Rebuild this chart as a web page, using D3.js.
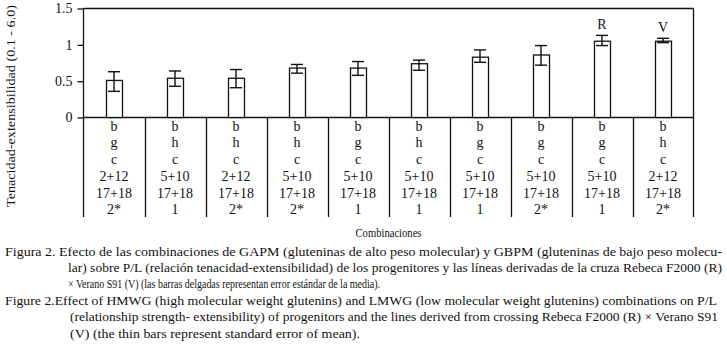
<html>
<head>
    <meta charset="utf-8">
    <script src="https://d3js.org/d3.v7.min.js"></script>
    <style>
        body { margin: 0; background: #fff; }
        text { font-family: "Liberation Serif", "DejaVu Serif", serif; fill: #111; }
    </style>
</head>
<body>
    <div id="chart">
        <svg width=727 height=354></svg>
    </div>
    <script>
        // datos
        var categories = ["c1", "c2", "c3", "c4", "c5", "c6", "c7", "c8", "c9", "c10"]
        var means  = [0.51, 0.54, 0.54, 0.68, 0.68, 0.74, 0.83, 0.86, 1.05, 1.05]
        var errLow = [0.36, 0.43, 0.41, 0.61, 0.58, 0.65, 0.76, 0.72, 0.99, 1.03]
        var errHigh = [0.63, 0.64, 0.66, 0.73, 0.77, 0.79, 0.93, 0.99, 1.13, 1.09]
        var barLabels = ["", "", "", "", "", "", "", "", "R", "V"]

        // filas de la tabla bajo el eje x
        var row1 = ["b", "b", "b", "b", "b", "b", "b", "b", "b", "b"]
        var row2 = ["g", "h", "h", "h", "g", "h", "g", "g", "g", "h"]
        var row3 = ["c", "c", "c", "c", "c", "c", "c", "c", "c", "c"]
        var row4 = ["2+12", "5+10", "2+12", "5+10", "5+10", "5+10", "5+10", "5+10", "5+10", "2+12"]
        var row5 = ["17+18", "17+18", "17+18", "17+18", "17+18", "17+18", "17+18", "17+18", "17+18", "17+18"]
        var row6 = ["2*", "1", "2*", "2*", "1", "1", "1", "2*", "1", "2*"]
        var rows = [row1, row2, row3, row4, row5, row6]

        var yTicks = [0, 0.5, 1, 1.5]
        var yTickLabels = ["0", "0.5", "1", "1.5"]

        var svg = d3.select('#chart svg')

        // ojo: "top" es de window, no usarlo como nombre
        var plotLeft = 83.5, plotRight = 693.5, plotTop = 8.5, base = 117.5, tableBottom = 217

        var x = d3.scaleBand()
            .domain(categories)
            .range([plotLeft, plotRight])
            .padding(0)

        var y = d3.scaleLinear()
            .domain([0, 1.5])
            .range([base, plotTop])

        var barW = 16, capW = 12

        // marco superior y derecho
        svg.append('line')
            .attr('x1', plotLeft).attr('x2', plotRight).attr('y1', plotTop).attr('y2', plotTop)
            .attr('stroke', '#111').attr('stroke-width', 1.3)
        svg.append('line')
            .attr('x1', plotRight).attr('x2', plotRight).attr('y1', plotTop).attr('y2', tableBottom)
            .attr('stroke', '#111').attr('stroke-width', 1.3)

        // eje y
        var yAxis = d3.axisLeft(y)
            .tickValues(yTicks)
            .tickFormat(function(d, i) { return yTickLabels[i] })
            .tickSize(6)
            .tickPadding(5)
        var gy = svg.append('g')
            .attr('transform', 'translate(' + plotLeft + ',0)')
            .call(yAxis)
        gy.select('.domain').remove()
        gy.selectAll('line').attr('stroke', '#111').attr('stroke-width', 1.3)
        gy.selectAll('text')
            .style('font-family', '"Liberation Serif", serif')
            .style('font-size', '14px')
            .attr('fill', '#111')

        svg.append('line')
            .attr('x1', plotLeft).attr('x2', plotLeft).attr('y1', plotTop).attr('y2', tableBottom)
            .attr('stroke', '#111').attr('stroke-width', 1.3)

        // eje x (linea base)
        svg.append('line')
            .attr('x1', plotLeft).attr('x2', plotRight).attr('y1', base).attr('y2', base)
            .attr('stroke', '#111').attr('stroke-width', 1.3)

        // barras
        svg.selectAll('rect.bar')
            .data(means)
            .enter()
            .append('rect')
            .classed('bar', true)
            .attr('x', function(d, i) { return Math.round(x(categories[i]) + x.bandwidth() / 2 - barW / 2) + 0.5 })
            .attr('y', function(d) { return y(d) })
            .attr('width', barW)
            .attr('height', function(d) { return base - y(d) })
            .attr('fill', '#fff')
            .attr('stroke', '#111')
            .attr('stroke-width', 1.3)

        // barras de error
        var err = svg.selectAll('g.err')
            .data(means)
            .enter()
            .append('g')
            .classed('err', true)
            .attr('stroke', '#111')
            .attr('stroke-width', 1.4)
        err.append('line')
            .attr('x1', function(d, i) { return x(categories[i]) + x.bandwidth() / 2 })
            .attr('x2', function(d, i) { return x(categories[i]) + x.bandwidth() / 2 })
            .attr('y1', function(d, i) { return y(errLow[i]) })
            .attr('y2', function(d, i) { return y(errHigh[i]) })
        err.append('line')
            .attr('x1', function(d, i) { return x(categories[i]) + x.bandwidth() / 2 - capW / 2 })
            .attr('x2', function(d, i) { return x(categories[i]) + x.bandwidth() / 2 + capW / 2 })
            .attr('y1', function(d, i) { return y(errLow[i]) })
            .attr('y2', function(d, i) { return y(errLow[i]) })
        err.append('line')
            .attr('x1', function(d, i) { return x(categories[i]) + x.bandwidth() / 2 - capW / 2 })
            .attr('x2', function(d, i) { return x(categories[i]) + x.bandwidth() / 2 + capW / 2 })
            .attr('y1', function(d, i) { return y(errHigh[i]) })
            .attr('y2', function(d, i) { return y(errHigh[i]) })

        // etiquetas R y V
        svg.selectAll('text.blabel')
            .data(barLabels)
            .enter()
            .append('text')
            .classed('blabel', true)
            .attr('x', function(d, i) { return x(categories[i]) + x.bandwidth() / 2 })
            .attr('y', function(d, i) { return y(errHigh[i]) - 6 })
            .attr('text-anchor', 'middle')
            .style('font-size', '14px')
            .text(function(d) { return d })

        // separadores de la tabla
        svg.selectAll('line.sep')
            .data(categories.slice(1))
            .enter()
            .append('line')
            .classed('sep', true)
            .attr('x1', function(d) { return Math.round(x(d)) + 0.5 })
            .attr('x2', function(d) { return Math.round(x(d)) + 0.5 })
            .attr('y1', base)
            .attr('y2', tableBottom)
            .attr('stroke', '#111')
            .attr('stroke-width', 1.3)

        // texto de la tabla
        var rowY = [130.5, 147, 164, 181, 197.5, 214]
        rows.forEach(function(row, r) {
            svg.selectAll('text.row' + r)
                .data(row)
                .enter()
                .append('text')
                .classed('row' + r, true)
                .attr('x', function(d, i) { return x(categories[i]) + x.bandwidth() / 2 })
                .attr('y', rowY[r])
                .attr('text-anchor', 'middle')
                .style('font-size', '14px')
                .text(function(d) { return d })
        })

        // titulos de ejes
        svg.append('text')
            .attr('transform', 'translate(15,106) rotate(-90)')
            .attr('text-anchor', 'middle')
            .style('font-size', '13px')
            .attr('textLength', 202)
            .attr('lengthAdjust', 'spacingAndGlyphs')
            .text('Tenacidad-extensibilidad (0.1 - 6.0)')

        svg.append('text')
            .attr('x', (plotLeft + plotRight) / 2)
            .attr('y', 237)
            .attr('text-anchor', 'middle')
            .style('font-size', '13px')
            .attr('textLength', 66)
            .attr('lengthAdjust', 'spacingAndGlyphs')
            .text('Combinaciones')

        // leyenda de la figura
        var caption = [
            { x: 5, y: 256, w: 717, t: 'Figura 2. Efecto de las combinaciones de GAPM (gluteninas de alto peso molecular) y GBPM (gluteninas de bajo peso molecu-' },
            { x: 68, y: 272, w: 654, t: 'lar) sobre P/L (relación tenacidad-extensibilidad) de los progenitores y las líneas derivadas de la cruza Rebeca F2000 (R)' },
            { x: 68, y: 288, w: 312, t: '× Verano S91 (V) (las barras delgadas representan error estándar de la media).' },
            { x: 5, y: 305, w: 712, t: 'Figure 2.Effect of HMWG (high molecular weight glutenins) and LMWG (low molecular weight glutenins) combinations on P/L' },
            { x: 70, y: 321, w: 648, t: '(relationship strength- extensibility) of progenitors and the lines derived from crossing Rebeca F2000 (R) × Verano S91' },
            { x: 70, y: 338, w: 290, t: '(V) (the thin bars represent standard error of mean).' }
        ]
        svg.selectAll('text.cap')
            .data(caption)
            .enter()
            .append('text')
            .classed('cap', true)
            .attr('x', function(d) { return d.x })
            .attr('y', function(d) { return d.y })
            .attr('textLength', function(d) { return d.w })
            .attr('lengthAdjust', 'spacingAndGlyphs')
            .style('font-size', '13px')
            .text(function(d) { return d.t })
    </script>
</body>
</html>
